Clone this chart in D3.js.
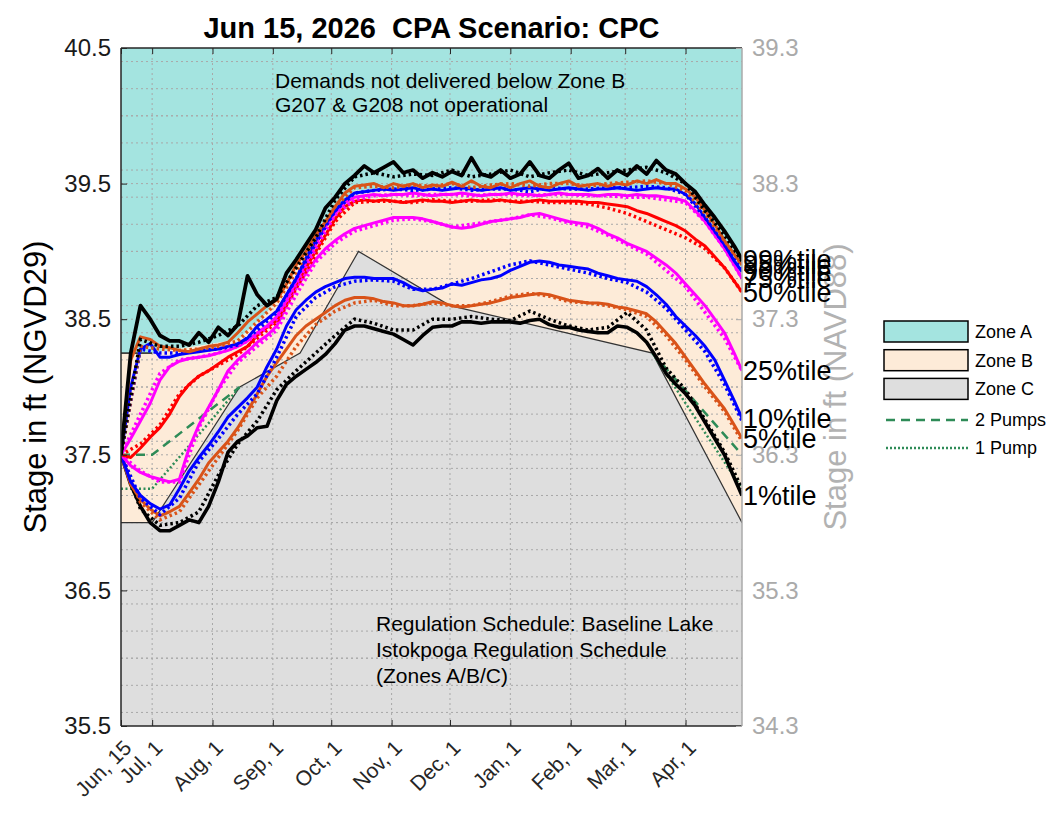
<!DOCTYPE html>
<html>
<head>
<meta charset="utf-8">
<title>Jun 15, 2026  CPA Scenario: CPC</title>
<script src="https://d3js.org/d3.v7.min.js"></script>
<style>
  body { margin: 0; background: #fff; }
  svg text { font-family: "Liberation Sans", Arial, Helvetica, sans-serif; }
</style>
</head>
<body>
<div id="chart"></div>
<script>
// x positions: days after Jun 15, 2026
var days = [0,5,10,15,20,25,30,35,40,45,50,55,60,65,70,75,80,85,90,95,100,105,110,115,120,125,130,135,140,145,150,155,160,165,170,175,180,185,190,195,200,205,210,215,220,225,230,235,240,245,250,255,260,265,270,275,280,285,290,295,300,305,310,315,319];
var daysDot = [0,10,20,30,40,50,60,70,80,90,100,110,120,130,140,150,160,170,180,190,200,210,220,230,240,250,260,270,280,290,300,310,319];

// percentile stages, solid lines (ft NGVD29)
var p1  = [37.5,37.28,37.12,37.0,36.94,36.94,36.98,37.02,37.0,37.12,37.3,37.52,37.6,37.64,37.7,37.71,37.9,38.02,38.08,38.13,38.18,38.24,38.32,38.42,38.45,38.45,38.43,38.41,38.39,38.35,38.31,38.38,38.44,38.45,38.45,38.48,38.48,38.47,38.48,38.48,38.48,38.47,38.49,38.5,38.46,38.44,38.44,38.42,38.41,38.4,38.4,38.45,38.44,38.4,38.33,38.22,38.1,38.02,37.95,37.86,37.74,37.62,37.5,37.33,37.2];
var p5  = [37.5,37.28,37.17,37.1,37.05,37.08,37.12,37.22,37.32,37.44,37.52,37.6,37.7,37.82,37.95,38.08,38.18,38.28,38.38,38.45,38.5,38.55,38.6,38.64,38.66,38.66,38.65,38.63,38.62,38.6,38.6,38.61,38.63,38.62,38.6,38.59,38.6,38.61,38.62,38.64,38.66,38.67,38.68,38.69,38.68,38.66,38.64,38.63,38.62,38.62,38.61,38.59,38.58,38.56,38.54,38.48,38.4,38.32,38.22,38.12,38.02,37.93,37.84,37.72,37.62];
var p10 = [37.5,37.3,37.2,37.14,37.1,37.13,37.25,37.38,37.48,37.57,37.67,37.78,37.85,37.92,38.0,38.15,38.28,38.45,38.57,38.64,38.7,38.74,38.77,38.8,38.81,38.81,38.8,38.8,38.8,38.77,38.73,38.71,38.72,38.73,38.76,38.75,38.77,38.79,38.8,38.82,38.86,38.89,38.92,38.93,38.92,38.9,38.89,38.88,38.87,38.84,38.82,38.8,38.79,38.78,38.74,38.68,38.61,38.52,38.45,38.38,38.3,38.2,38.05,37.9,37.77];
var p25 = [37.5,37.42,37.37,37.34,37.32,37.3,37.32,37.55,37.72,37.85,37.98,38.12,38.2,38.26,38.33,38.38,38.45,38.6,38.73,38.84,38.94,39.02,39.08,39.13,39.17,39.19,39.21,39.23,39.25,39.25,39.25,39.24,39.22,39.2,39.18,39.17,39.18,39.2,39.22,39.23,39.24,39.25,39.27,39.28,39.26,39.24,39.22,39.21,39.2,39.17,39.13,39.1,39.06,39.03,39.0,38.95,38.9,38.84,38.76,38.68,38.6,38.5,38.4,38.25,38.12];
var p50 = [37.5,37.48,37.55,37.63,37.7,37.8,37.93,38.02,38.08,38.12,38.17,38.22,38.26,38.3,38.38,38.44,38.49,38.62,38.76,38.88,39.0,39.12,39.24,39.33,39.37,39.38,39.37,39.38,39.37,39.36,39.37,39.38,39.37,39.37,39.36,39.37,39.38,39.37,39.37,39.38,39.37,39.36,39.37,39.38,39.37,39.37,39.37,39.37,39.36,39.36,39.35,39.34,39.33,39.3,39.28,39.25,39.22,39.19,39.15,39.09,39.04,38.96,38.88,38.78,38.7];
var p75 = [37.5,37.62,37.75,37.88,38.05,38.15,38.19,38.21,38.22,38.23,38.25,38.27,38.3,38.34,38.4,38.45,38.52,38.64,38.78,38.92,39.05,39.18,39.28,39.36,39.4,39.41,39.42,39.41,39.42,39.42,39.43,39.42,39.41,39.42,39.42,39.43,39.42,39.41,39.42,39.42,39.43,39.42,39.42,39.41,39.42,39.43,39.42,39.42,39.42,39.41,39.42,39.42,39.41,39.42,39.41,39.41,39.4,39.39,39.37,39.3,39.22,39.12,39.02,38.9,38.8];
var p90 = [37.5,38.0,38.28,38.32,38.22,38.22,38.24,38.25,38.26,38.27,38.28,38.3,38.32,38.36,38.45,38.5,38.56,38.68,38.8,38.95,39.08,39.2,39.3,39.38,39.43,39.44,39.45,39.46,39.45,39.46,39.47,39.45,39.46,39.45,39.46,39.47,39.46,39.45,39.46,39.47,39.45,39.46,39.47,39.46,39.45,39.46,39.47,39.46,39.45,39.46,39.46,39.47,39.46,39.45,39.46,39.47,39.46,39.46,39.42,39.35,39.25,39.15,39.05,38.93,38.85];
var p95 = [37.5,38.2,38.37,38.35,38.3,38.29,38.27,38.26,38.28,38.3,38.31,38.33,38.4,38.48,38.54,38.6,38.64,38.76,38.9,39.0,39.12,39.22,39.33,39.43,39.48,39.49,39.5,39.47,39.5,39.48,39.5,39.47,39.49,39.48,39.51,39.48,39.52,39.48,39.47,39.5,39.47,39.5,39.52,39.48,39.47,39.5,39.52,39.48,39.49,39.5,39.48,39.5,39.49,39.52,39.5,39.53,39.5,39.5,39.46,39.4,39.3,39.2,39.08,38.98,38.9];
var p99 = [37.5,38.25,38.6,38.5,38.38,38.34,38.34,38.31,38.4,38.33,38.44,38.38,38.46,38.82,38.68,38.6,38.65,38.84,38.94,39.05,39.16,39.32,39.4,39.5,39.56,39.63,39.58,39.62,39.66,39.58,39.6,39.54,39.58,39.55,39.59,39.56,39.69,39.57,39.55,39.6,39.54,39.57,39.66,39.56,39.54,39.6,39.65,39.54,39.56,39.61,39.54,39.6,39.56,39.63,39.57,39.67,39.6,39.57,39.5,39.44,39.34,39.25,39.15,39.04,38.94];

// percentile stages, dotted lines
var p1Dot  = [37.5,37.1,36.98,37.0,37.08,37.35,37.58,37.75,37.98,38.12,38.25,38.38,38.5,38.47,38.42,38.42,38.5,38.5,38.52,38.5,38.49,38.56,38.5,38.45,38.42,38.44,38.55,38.42,38.14,37.98,37.76,37.52,37.25];
var p5Dot  = [37.5,37.15,37.02,37.08,37.28,37.48,37.68,37.92,38.08,38.3,38.46,38.56,38.62,38.64,38.6,38.6,38.62,38.6,38.6,38.63,38.67,38.69,38.67,38.63,38.62,38.6,38.57,38.52,38.38,38.2,38.0,37.82,37.6];
var p10Dot = [37.5,37.18,37.06,37.18,37.45,37.62,37.8,37.95,38.22,38.52,38.66,38.74,38.78,38.79,38.78,38.72,38.72,38.76,38.8,38.85,38.9,38.93,38.9,38.87,38.84,38.8,38.77,38.7,38.58,38.42,38.26,38.02,37.75];
var p25Dot = [37.5,37.38,37.3,37.3,37.7,37.98,38.18,38.3,38.42,38.68,38.92,39.06,39.15,39.19,39.23,39.24,39.22,39.18,39.2,39.22,39.24,39.27,39.25,39.21,39.18,39.12,39.05,38.98,38.86,38.74,38.55,38.36,38.12];
var p50Dot = [37.5,37.58,37.72,37.95,38.08,38.16,38.24,38.36,38.48,38.73,38.98,39.22,39.36,39.37,39.37,39.36,39.38,39.37,39.37,39.38,39.37,39.37,39.36,39.36,39.35,39.32,39.28,39.22,39.16,39.1,39.02,38.88,38.7];
var p75Dot = [37.5,37.8,38.1,38.2,38.22,38.25,38.3,38.38,38.5,38.76,39.02,39.27,39.38,39.41,39.42,39.41,39.42,39.42,39.41,39.42,39.42,39.41,39.42,39.42,39.41,39.41,39.4,39.4,39.38,39.36,39.22,39.02,38.8];
var p90Dot = [37.5,38.28,38.25,38.25,38.27,38.28,38.31,38.42,38.55,38.8,39.06,39.3,39.43,39.45,39.46,39.45,39.46,39.47,39.45,39.46,39.46,39.44,39.47,39.46,39.46,39.47,39.47,39.48,39.47,39.42,39.25,39.05,38.86];
var p95Dot = [37.5,38.3,38.28,38.27,38.28,38.3,38.34,38.48,38.62,38.85,39.1,39.33,39.47,39.48,39.47,39.49,39.48,39.5,39.47,39.49,39.5,39.48,39.5,39.5,39.48,39.5,39.51,39.52,39.5,39.45,39.28,39.08,38.9];
var p99Dot = [37.5,38.35,38.3,38.3,38.33,38.38,38.45,38.6,38.66,38.88,39.1,39.38,39.55,39.58,39.55,39.57,39.56,39.6,39.55,39.57,39.6,39.55,39.58,39.6,39.56,39.58,39.6,39.62,39.58,39.5,39.3,39.12,38.93];

var pctLabels = ["1%tile","5%tile","10%tile","25%tile","50%tile","75%tile","90%tile","95%tile","99%tile"];

// regulation schedule zones
var zoneADays = [0,16,60,75,92,110,120,290,319];
var zoneABottom = [38.25,38.25,38.35,38.55,38.95,39.3,39.45,39.45,38.85];
var zoneCDays = [0,16,61,92,122,169,273,319];
var zoneCTop = [37.0,37.0,38.0,38.25,39.0,38.6,38.25,37.0];

// pump lines (gap in the middle)
var pumpDays = [0,16,61,167,273,319];
var pump2 = [37.5,37.5,38.0,null,38.25,37.5];
var pump1 = [37.25,37.25,38.0,null,38.25,37.25];

var tickLabels = ["Jun, 15","Jul, 1","Aug, 1","Sep, 1","Oct, 1","Nov, 1","Dec, 1","Jan, 1","Feb, 1","Mar, 1","Apr, 1"];
var tickDays = [0,16,47,78,108,139,169,200,231,259,290];
var leftTicks = [35.5,36.5,37.5,38.5,39.5,40.5];
var rightTicks = [34.3,35.3,36.3,37.3,38.3,39.3];

var W = 1063, H = 814;
var L = 121, R = 742, T = 48, B = 726;
var start = new Date(2026, 5, 15);
function dayDate(d) { return d3.timeDay.offset(start, d); }

var svg = d3.select("#chart").append("svg").attr("width", W).attr("height", H);

var x = d3.scaleTime().domain([start, dayDate(319)]).range([L, R]);
var y = d3.scaleLinear().domain([35.5, 40.5]).range([B, T]);
var yR = d3.scaleLinear().domain([34.3, 39.3]).range([B, T]);

svg.append("defs").append("clipPath").attr("id", "clip")
    .append("rect").attr("x", L).attr("y", T).attr("width", R - L).attr("height", B - T);

var plot = svg.append("g").attr("clip-path", "url(#clip)");

// zone fills
var zoneA = zoneADays.map(function (d, i) { return [d, zoneABottom[i]]; });
var zoneC = zoneCDays.map(function (d, i) { return [d, zoneCTop[i]]; });

plot.append("rect").attr("x", L).attr("y", T).attr("width", R - L).attr("height", B - T).attr("fill", "#a4e4e0");
var areaB = d3.area().x(function (d) { return x(dayDate(d[0])); }).y0(y(35.5)).y1(function (d) { return y(d[1]); });
plot.append("path").datum(zoneA).attr("d", areaB).attr("fill", "#fdebd8");
plot.append("path").datum(zoneC).attr("d", areaB).attr("fill", "#dedede");

// grid
var grid = plot.append("g").attr("stroke", "#a8a8a8").attr("stroke-width", 1).attr("stroke-dasharray", "2,3");
tickDays.slice(1).forEach(function (d) {
    grid.append("line").attr("x1", x(dayDate(d))).attr("x2", x(dayDate(d))).attr("y1", T).attr("y2", B);
});
d3.range(36, 40.5, 0.5).forEach(function (v) {
    grid.append("line").attr("x1", L).attr("x2", R).attr("y1", y(v)).attr("y2", y(v));
});
d3.range(34.4, 39.25, 0.2).forEach(function (v) {
    grid.append("line").attr("x1", L).attr("x2", R).attr("y1", yR(v)).attr("y2", yR(v));
});

var line = d3.line()
    .defined(function (d) { return d[1] != null; })
    .x(function (d) { return x(dayDate(d[0])); })
    .y(function (d) { return y(d[1]); });

// zone boundary lines
plot.append("path").datum(zoneA.slice(0, 2)).attr("d", line).attr("fill", "none").attr("stroke", "#222").attr("stroke-width", 1.5);
plot.append("path").datum(zoneC).attr("d", line).attr("fill", "none").attr("stroke", "#333").attr("stroke-width", 1.2);

// pump lines
function pts(ds, vs) { return ds.map(function (d, i) { return [d, vs[i]]; }); }
plot.append("path").datum(pts(pumpDays, pump2)).attr("d", line).attr("fill", "none")
    .attr("stroke", "#2e8b57").attr("stroke-width", 2.5).attr("stroke-dasharray", "9,6");
plot.append("path").datum(pts(pumpDays, pump1)).attr("d", line).attr("fill", "none")
    .attr("stroke", "#2e8b57").attr("stroke-width", 2.5).attr("stroke-dasharray", "2,2.5");

// percentile lines
var solid = [p1, p5, p10, p25, p50, p75, p90, p95, p99];
var dotted = [p1Dot, p5Dot, p10Dot, p25Dot, p50Dot, p75Dot, p90Dot, p95Dot, p99Dot];
var colors = ["#000000", "#d95319", "#0000ff", "#ff00ff", "#ff0000", "#ff00ff", "#0000ff", "#d95319", "#000000"];
var widths = [3.6, 3, 3, 3, 3, 3, 3, 3, 3.8];
var drawOrder = [0, 1, 2, 3, 4, 5, 6, 7, 8];

drawOrder.forEach(function (k) {
    plot.append("path").datum(pts(days, solid[k])).attr("d", line).attr("fill", "none")
        .attr("stroke", colors[k]).attr("stroke-width", widths[k]).attr("stroke-linejoin", "round");
    plot.append("path").datum(pts(daysDot, dotted[k])).attr("d", line).attr("fill", "none")
        .attr("stroke", colors[k]).attr("stroke-width", 3.5).attr("stroke-dasharray", "2.5,3");
});

// frame
svg.append("line").attr("x1", L).attr("x2", R).attr("y1", T).attr("y2", T).attr("stroke", "#262626").attr("stroke-width", 1.5);
svg.append("line").attr("x1", L).attr("x2", R).attr("y1", B).attr("y2", B).attr("stroke", "#262626").attr("stroke-width", 1.5);
svg.append("line").attr("x1", L).attr("x2", L).attr("y1", T).attr("y2", B).attr("stroke", "#262626").attr("stroke-width", 1.5);
svg.append("line").attr("x1", R).attr("x2", R).attr("y1", T).attr("y2", B).attr("stroke", "#aaaaaa").attr("stroke-width", 1.5);

// axes
var tickDates = tickDays.map(dayDate);
var xAxis = svg.append("g").attr("transform", "translate(0," + B + ")")
    .call(d3.axisBottom(x).tickValues(tickDates).tickSize(-6).tickFormat(function (d, i) { return tickLabels[i]; }));
xAxis.select(".domain").remove();
xAxis.selectAll("line").attr("stroke", "#262626");
xAxis.selectAll("text")
    .attr("x", 0).attr("y", 0).attr("dy", "0.35em")
    .attr("transform", "translate(6,18) rotate(-45)")
    .style("text-anchor", "end").attr("font-size", 21).attr("fill", "#262626");

var xTop = svg.append("g").attr("transform", "translate(0," + T + ")")
    .call(d3.axisTop(x).tickValues(tickDates).tickSize(-6).tickFormat(""));
xTop.select(".domain").remove();
xTop.selectAll("line").attr("stroke", "#262626");

var yAxis = svg.append("g").attr("transform", "translate(" + L + ",0)")
    .call(d3.axisLeft(y).tickValues(leftTicks).tickSize(-6).tickPadding(10).tickFormat(d3.format(".1f")));
yAxis.select(".domain").remove();
yAxis.selectAll("line").attr("stroke", "#262626");
yAxis.selectAll("text").attr("font-size", 24).attr("fill", "#1a1a1a");

var yAxisR = svg.append("g").attr("transform", "translate(" + R + ",0)")
    .call(d3.axisRight(yR).tickValues(rightTicks).tickSize(-6).tickPadding(10).tickFormat(d3.format(".1f")));
yAxisR.select(".domain").remove();
yAxisR.selectAll("line").attr("stroke", "#aaaaaa");
yAxisR.selectAll("text").attr("font-size", 24).attr("fill", "#aaaaaa");

// axis titles
svg.append("text").attr("transform", "translate(46," + ((T + B) / 2) + ") rotate(-90)")
    .attr("text-anchor", "middle").attr("font-size", 31).attr("fill", "#000").text("Stage in ft (NGVD29)");
svg.append("text").attr("transform", "translate(846," + ((T + B) / 2) + ") rotate(-90)")
    .attr("text-anchor", "middle").attr("font-size", 31).attr("fill", "#b2b2b2").text("Stage in ft (NAVD88)");

svg.append("text").attr("x", (L + R) / 2).attr("y", 38).attr("text-anchor", "middle")
    .style("white-space", "pre")
    .attr("font-size", 29).attr("font-weight", "bold").attr("fill", "#000")
    .text("Jun 15, 2026  CPA Scenario: CPC");

// notes
var note1 = svg.append("text").attr("font-size", 21).attr("fill", "#000");
note1.append("tspan").attr("x", 275).attr("y", 88).text("Demands not delivered below Zone B");
note1.append("tspan").attr("x", 275).attr("y", 112).text("G207 & G208 not operational");
var note2 = svg.append("text").attr("font-size", 21).attr("fill", "#000");
note2.append("tspan").attr("x", 376).attr("y", 631).text("Regulation Schedule: Baseline Lake");
note2.append("tspan").attr("x", 376).attr("y", 657).text("Istokpoga Regulation Schedule");
note2.append("tspan").attr("x", 376).attr("y", 683).text("(Zones A/B/C)");

// end labels
drawOrder.forEach(function (k) {
    var s = solid[k];
    svg.append("text").attr("x", R + 1).attr("y", y(s[s.length - 1]))
        .attr("dy", "0.35em").attr("font-size", 27).attr("fill", "#000").text(pctLabels[k]);
});

// legend
var legendZones = ["Zone A", "Zone B", "Zone C"];
var legendFills = ["#a4e4e0", "#fdebd8", "#dedede"];
var lg = svg.append("g");
legendZones.forEach(function (z, i) {
    var yy = 321 + i * 28.7;
    lg.append("rect").attr("x", 884).attr("y", yy).attr("width", 84).attr("height", 21)
        .attr("fill", legendFills[i]).attr("stroke", "#000").attr("stroke-width", 1.5);
    lg.append("text").attr("x", 975).attr("y", yy + 10.5).attr("dy", "0.35em").attr("font-size", 18).text(z);
});
lg.append("line").attr("x1", 886).attr("x2", 968).attr("y1", 420).attr("y2", 420)
    .attr("stroke", "#2e8b57").attr("stroke-width", 2.5).attr("stroke-dasharray", "9,6");
lg.append("text").attr("x", 975).attr("y", 420).attr("dy", "0.35em").attr("font-size", 18).text("2 Pumps");
lg.append("line").attr("x1", 886).attr("x2", 968).attr("y1", 448).attr("y2", 448)
    .attr("stroke", "#2e8b57").attr("stroke-width", 2.5).attr("stroke-dasharray", "2,2");
lg.append("text").attr("x", 975).attr("y", 448).attr("dy", "0.35em").attr("font-size", 18).text("1 Pump");
</script>
</body>
</html>
